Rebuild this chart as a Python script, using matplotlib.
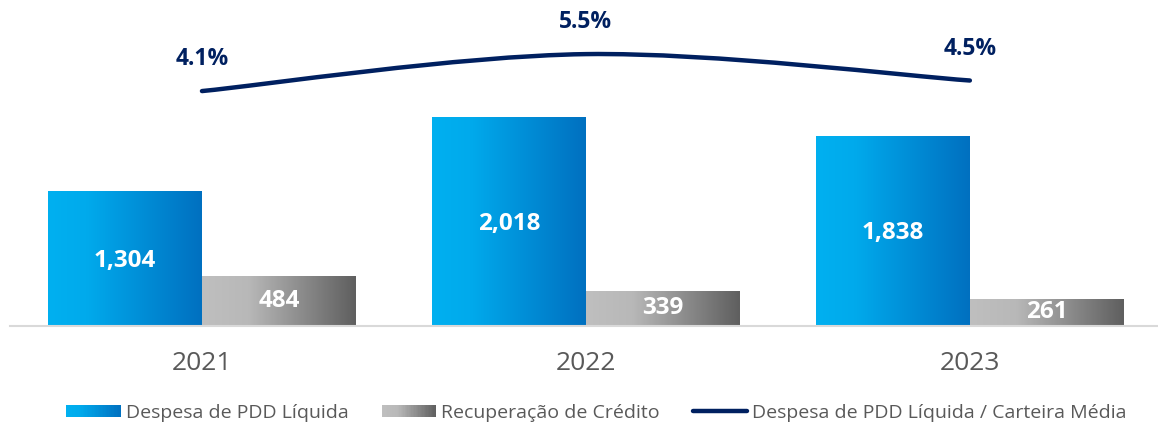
import numpy as np
import matplotlib
matplotlib.use("Agg")
import matplotlib.pyplot as plt
from matplotlib.patches import Rectangle
from matplotlib.path import Path
from matplotlib.patches import PathPatch
from matplotlib.lines import Line2D
from matplotlib.legend_handler import HandlerBase
from matplotlib.colors import LinearSegmentedColormap

years = ["2021", "2022", "2023"]
despesa = [1304, 2018, 1838]
recuperacao = [484, 339, 261]
ratio = [4.1, 5.5, 4.5]
despesa_labels = ["1,304", "2,018", "1,838"]
recuperacao_labels = ["484", "339", "261"]
ratio_labels = ["4.1%", "5.5%", "4.5%"]
legend_labels = ["Despesa de PDD Líquida", "Recuperação de Crédito",
                 "Despesa de PDD Líquida / Carteira Média"]

BLUE_STOPS = [(0.0, "#00B0F0"), (0.25, "#00AAEC"), (1.0, "#0070C0")]
GRAY_STOPS = [(0.0, "#BFBFBF"), (0.3, "#B8B8B8"), (1.0, "#5F5F5F")]
NAVY = "#002060"

blue_cmap = LinearSegmentedColormap.from_list("b", BLUE_STOPS)
gray_cmap = LinearSegmentedColormap.from_list("g", GRAY_STOPS)

plt.rcParams["font.family"] = ["Open Sans", "DejaVu Sans"]

fig = plt.figure(figsize=(11.58, 4.25), dpi=100)
ax = fig.add_axes([10 / 1158, (425 - 326) / 425, 1 - 10 / 1158, 326 / 425])
ax2 = ax.twinx()

x = np.arange(len(years))
w = 0.401

bars1 = ax.bar(x - w / 2, despesa, w, color="none", edgecolor="none")
bars2 = ax.bar(x + w / 2, recuperacao, w, color="none", edgecolor="none")

grad = np.linspace(0, 1, 256).reshape(1, -1)
for bars, cmap in ((bars1, blue_cmap), (bars2, gray_cmap)):
    for b in bars:
        x0, y0 = b.get_x(), b.get_y()
        bw, bh = b.get_width(), b.get_height()
        im = ax.imshow(grad, cmap=cmap, aspect="auto",
                       extent=(x0, x0 + bw, y0, y0 + bh), zorder=2,
                       interpolation="bilinear")
        im.set_clip_path(b)
ax.set_xlim(-0.5, 2.49)
ax.set_ylim(0, 3150)
ax2.set_ylim(-4.8, 7.55)

for b, lab in zip(bars1, despesa_labels):
    ax.text(b.get_x() + b.get_width() / 2, b.get_height() / 2 - 25, lab,
            ha="center", va="center", color="white", fontsize=17.5,
            fontweight="bold", zorder=5)
for b, lab in zip(bars2, recuperacao_labels):
    ax.text(b.get_x() + b.get_width() / 2, b.get_height() / 2, lab,
            ha="center", va="center", color="white", fontsize=17.5,
            fontweight="bold", zorder=5)

# smoothed line (Catmull-Rom style bezier, like Excel smoothing)
pts = np.column_stack([x.astype(float), np.array(ratio, dtype=float)])
verts = [tuple(pts[0])]
codes = [Path.MOVETO]
n = len(pts)
for i in range(n - 1):
    p0 = pts[max(i - 1, 0)]
    p1 = pts[i]
    p2 = pts[i + 1]
    p3 = pts[min(i + 2, n - 1)]
    c1 = p1 + (p2 - p0) / 6.0
    c2 = p2 - (p3 - p1) / 6.0
    verts += [tuple(c1), tuple(c2), tuple(p2)]
    codes += [Path.CURVE4] * 3
path = Path(verts, codes)
ax2.add_patch(PathPatch(path, facecolor="none", edgecolor=NAVY, lw=3.2,
                        capstyle="round", zorder=6))

for xi, yi, lab in zip(x, ratio, ratio_labels):
    ax2.annotate(lab, (xi, yi), xytext=(0, 23), textcoords="offset points",
                 ha="center", va="center", color=NAVY, fontsize=16.5,
                 fontweight="bold")

for a in (ax, ax2):
    for s in a.spines.values():
        s.set_visible(False)
    a.set_yticks([])
ax.spines["bottom"].set_visible(True)
ax.spines["bottom"].set_color("#D9D9D9")
ax.spines["bottom"].set_linewidth(1.5)
ax.set_xticks(x)
ax.set_xticklabels(years, fontsize=19, color="#595959")
ax.tick_params(axis="x", length=0, pad=18)
ax.set_zorder(1)
ax2.set_zorder(2)
ax.patch.set_visible(False)


class GradientHandler(HandlerBase):
    def __init__(self, cmap, **kw):
        super().__init__(**kw)
        self.cmap = cmap

    def create_artists(self, legend, orig_handle, xdescent, ydescent, width,
                       height, fontsize, trans):
        arts = []
        nseg = 40
        for k in range(nseg):
            r = Rectangle((-xdescent + width * k / nseg, -ydescent + height * 0.05),
                          width / nseg * 1.05, height * 0.9,
                          facecolor=self.cmap((k + 0.5) / nseg),
                          edgecolor="none", transform=trans)
            arts.append(r)
        return arts


h1 = Rectangle((0, 0), 1, 1)
h2 = Rectangle((0, 0), 1, 1)
h3 = Line2D([0], [0], color=NAVY, lw=3.2, solid_capstyle="round")
leg = fig.legend([h1, h2, h3], legend_labels, loc="center",
                 bbox_to_anchor=(0.515, 0.028), ncol=3, frameon=False,
                 fontsize=14, handlelength=2.8, handleheight=0.65,
                 handletextpad=0.25, columnspacing=1.7,
                 handler_map={h1: GradientHandler(blue_cmap),
                              h2: GradientHandler(gray_cmap)})
for t in leg.get_texts():
    t.set_color("#595959")

fig.savefig("out.png", dpi=100)
